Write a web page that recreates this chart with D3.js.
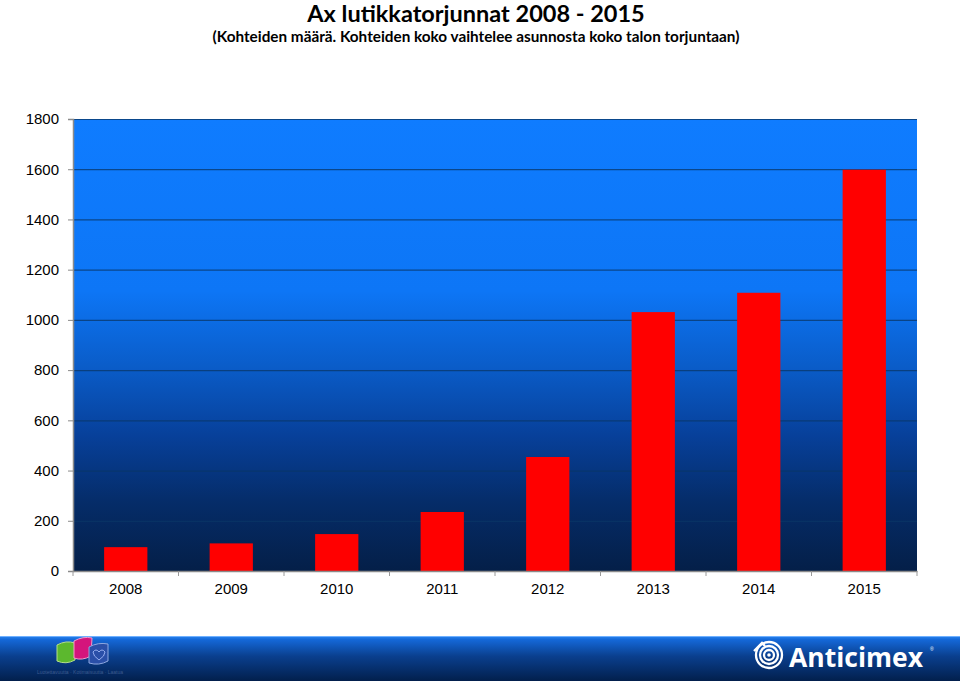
<!DOCTYPE html>
<html><head><meta charset="utf-8">
<script src="https://cdn.jsdelivr.net/npm/d3@7"></script>
<style>body{margin:0;background:#fff;}svg{display:block;}</style>
</head><body>
<script>
const categories = ["2008","2009","2010","2011","2012","2013","2014","2015"];
const values = [95, 110, 147, 235, 454, 1031, 1108, 1598];
const yTicks = [0,200,400,600,800,1000,1200,1400,1600,1800];
const title = "Ax lutikkatorjunnat 2008 - 2015";
const subtitle = "(Kohteiden määrä. Kohteiden koko vaihtelee asunnosta koko talon torjuntaan)";

const W = 960, H = 681;
const m = {left:73, right:43, top:119, bottom:110};
const svg = d3.select("body").append("svg").attr("width",W).attr("height",H);
const defs = svg.append("defs");
const g1 = defs.append("linearGradient").attr("id","plotbg").attr("x1",0).attr("y1",0).attr("x2",0).attr("y2",1);
[[0,"#0f7cff"],[0.38,"#0d76f6"],[0.55,"#0a5cc8"],[0.7,"#07409a"],[0.85,"#052c68"],[1,"#041f48"]]
  .forEach(s=>g1.append("stop").attr("offset",s[0]).attr("stop-color",s[1]));
const g2 = defs.append("linearGradient").attr("id","footbg").attr("x1",0).attr("y1",0).attr("x2",0).attr("y2",1);
[[0,"#2a86f0"],[0.08,"#1468d8"],[0.45,"#0a3f8e"],[1,"#021f4c"]]
  .forEach(s=>g2.append("stop").attr("offset",s[0]).attr("stop-color",s[1]));

const x = d3.scaleBand().domain(categories).range([m.left, W-m.right]).paddingInner(0.59).paddingOuter(0.295);
const y = d3.scaleLinear().domain([0,1800]).range([H-m.bottom, m.top]);

// titles
svg.append("text").attr("x",476).attr("y",22).attr("text-anchor","middle")
  .style("font-family","Lato, 'Open Sans', sans-serif").style("font-weight","bold").style("font-size","23.5px")
  .attr("fill","#000").text(title);
svg.append("text").attr("x",476).attr("y",42).attr("text-anchor","middle")
  .style("font-family","Lato, 'Open Sans', sans-serif").style("font-weight","bold").style("font-size","15.3px")
  .attr("fill","#000").text(subtitle);

// plot background
svg.append("rect").attr("x",m.left).attr("y",m.top).attr("width",W-m.right-m.left).attr("height",H-m.bottom-m.top)
  .attr("fill","url(#plotbg)");

// gridlines
svg.append("g").selectAll("line").data(yTicks.filter(d=>d>0)).join("line")
  .attr("x1",m.left).attr("x2",W-m.right).attr("y1",d=>y(d)+0.5).attr("y2",d=>y(d)+0.5)
  .attr("stroke","#0a3566").attr("stroke-opacity",0.75).attr("stroke-width",1.2);

// bars
svg.append("g").selectAll("rect").data(categories).join("rect")
  .attr("x",d=>x(d)).attr("width",x.bandwidth())
  .attr("y",(d,i)=>y(values[i])).attr("height",(d,i)=>y(0)-y(values[i]))
  .attr("fill","#ff0000");

// axes
const yAxis = d3.axisLeft(y).tickValues(yTicks).tickFormat(d3.format("d")).tickSize(5).tickPadding(9);
const ya = svg.append("g").attr("transform",`translate(${m.left},0)`).call(yAxis);
ya.select(".domain").attr("stroke","#8a8a8a").attr("stroke-width",1.5);
ya.selectAll(".tick line").attr("stroke","#8a8a8a");
ya.selectAll("text").style("font-family","'Liberation Sans', Arial, sans-serif").style("font-size","15px").attr("fill","#000");

const xAxis = d3.axisBottom(x).tickSize(0).tickPadding(12);
const xa = svg.append("g").attr("transform",`translate(0,${H-m.bottom})`).call(xAxis);
xa.select(".domain").attr("stroke","#8a8a8a").attr("stroke-width",1.5);
xa.selectAll("text").style("font-family","'Liberation Sans', Arial, sans-serif").style("font-size","15px").attr("fill","#000");
// category boundary ticks
const bounds = categories.map(c=>x(c)-x.step()*x.paddingInner()/2).concat([W-m.right]);
xa.append("g").selectAll("line").data(bounds).join("line")
  .attr("x1",d=>d).attr("x2",d=>d).attr("y1",0).attr("y2",5).attr("stroke","#9a9a9a");

// footer
svg.append("rect").attr("x",0).attr("y",636).attr("width",W).attr("height",H-636).attr("fill","url(#footbg)");
svg.append("line").attr("x1",0).attr("x2",W).attr("y1",636.5).attr("y2",636.5).attr("stroke","#6fb0ff").attr("stroke-width",1);

// left logo (leaves)
const lg = svg.append("g");
lg.append("path").attr("d","M57,645 Q66,640 75,643 L75,660 Q66,665 57,661 Z").attr("fill","#5cb82e").attr("stroke","#b5e08a").attr("stroke-width",1);
lg.append("path").attr("d","M74,641 Q83,636 92,638 L91,656 Q82,661 74,658 Z").attr("fill","#d4157c").attr("stroke","#f59ac8").attr("stroke-width",1);
lg.append("path").attr("d","M89,647 Q98,642 108,644 L108,661 Q99,666 89,663 Z").attr("fill","#2a4fa8").attr("stroke","#8fa8e0").attr("stroke-width",1);
lg.append("path").attr("d","M93,652 q3,-4 6,0 q3,-4 6,0 q0,4 -6,8 q-6,-4 -6,-8z").attr("fill","none").attr("stroke","#b0c4ff").attr("stroke-width",0.8);
lg.append("text").attr("x",80).attr("y",674).attr("text-anchor","middle").style("font-family","'Liberation Sans', sans-serif")
  .style("font-size","5px").attr("fill","#3d5b8f").text("Luotettavuutta · Kotimaisuutta · Laatua");

// Anticimex logo
const ag = svg.append("g").attr("transform","translate(769,655)");
[13,9,5].forEach(r=>ag.append("circle").attr("r",r).attr("fill","none").attr("stroke","#fff").attr("stroke-width",2.3));
ag.append("circle").attr("r",1.8).attr("fill","#fff");
ag.append("path").attr("d","M-15,-4 L-7,-12 L-4,-9").attr("fill","none").attr("stroke","#fff").attr("stroke-width",2.3);
svg.append("text").attr("x",789).attr("y",667).style("font-family","'Open Sans', Lato, sans-serif").style("font-weight","bold")
  .style("font-size","26.5px").attr("fill","#fff").text("Anticimex");
svg.append("text").attr("x",930).attr("y",651).style("font-family","'Liberation Sans', sans-serif")
  .style("font-size","5px").attr("fill","#fff").text("®");
</script>
</body></html>
